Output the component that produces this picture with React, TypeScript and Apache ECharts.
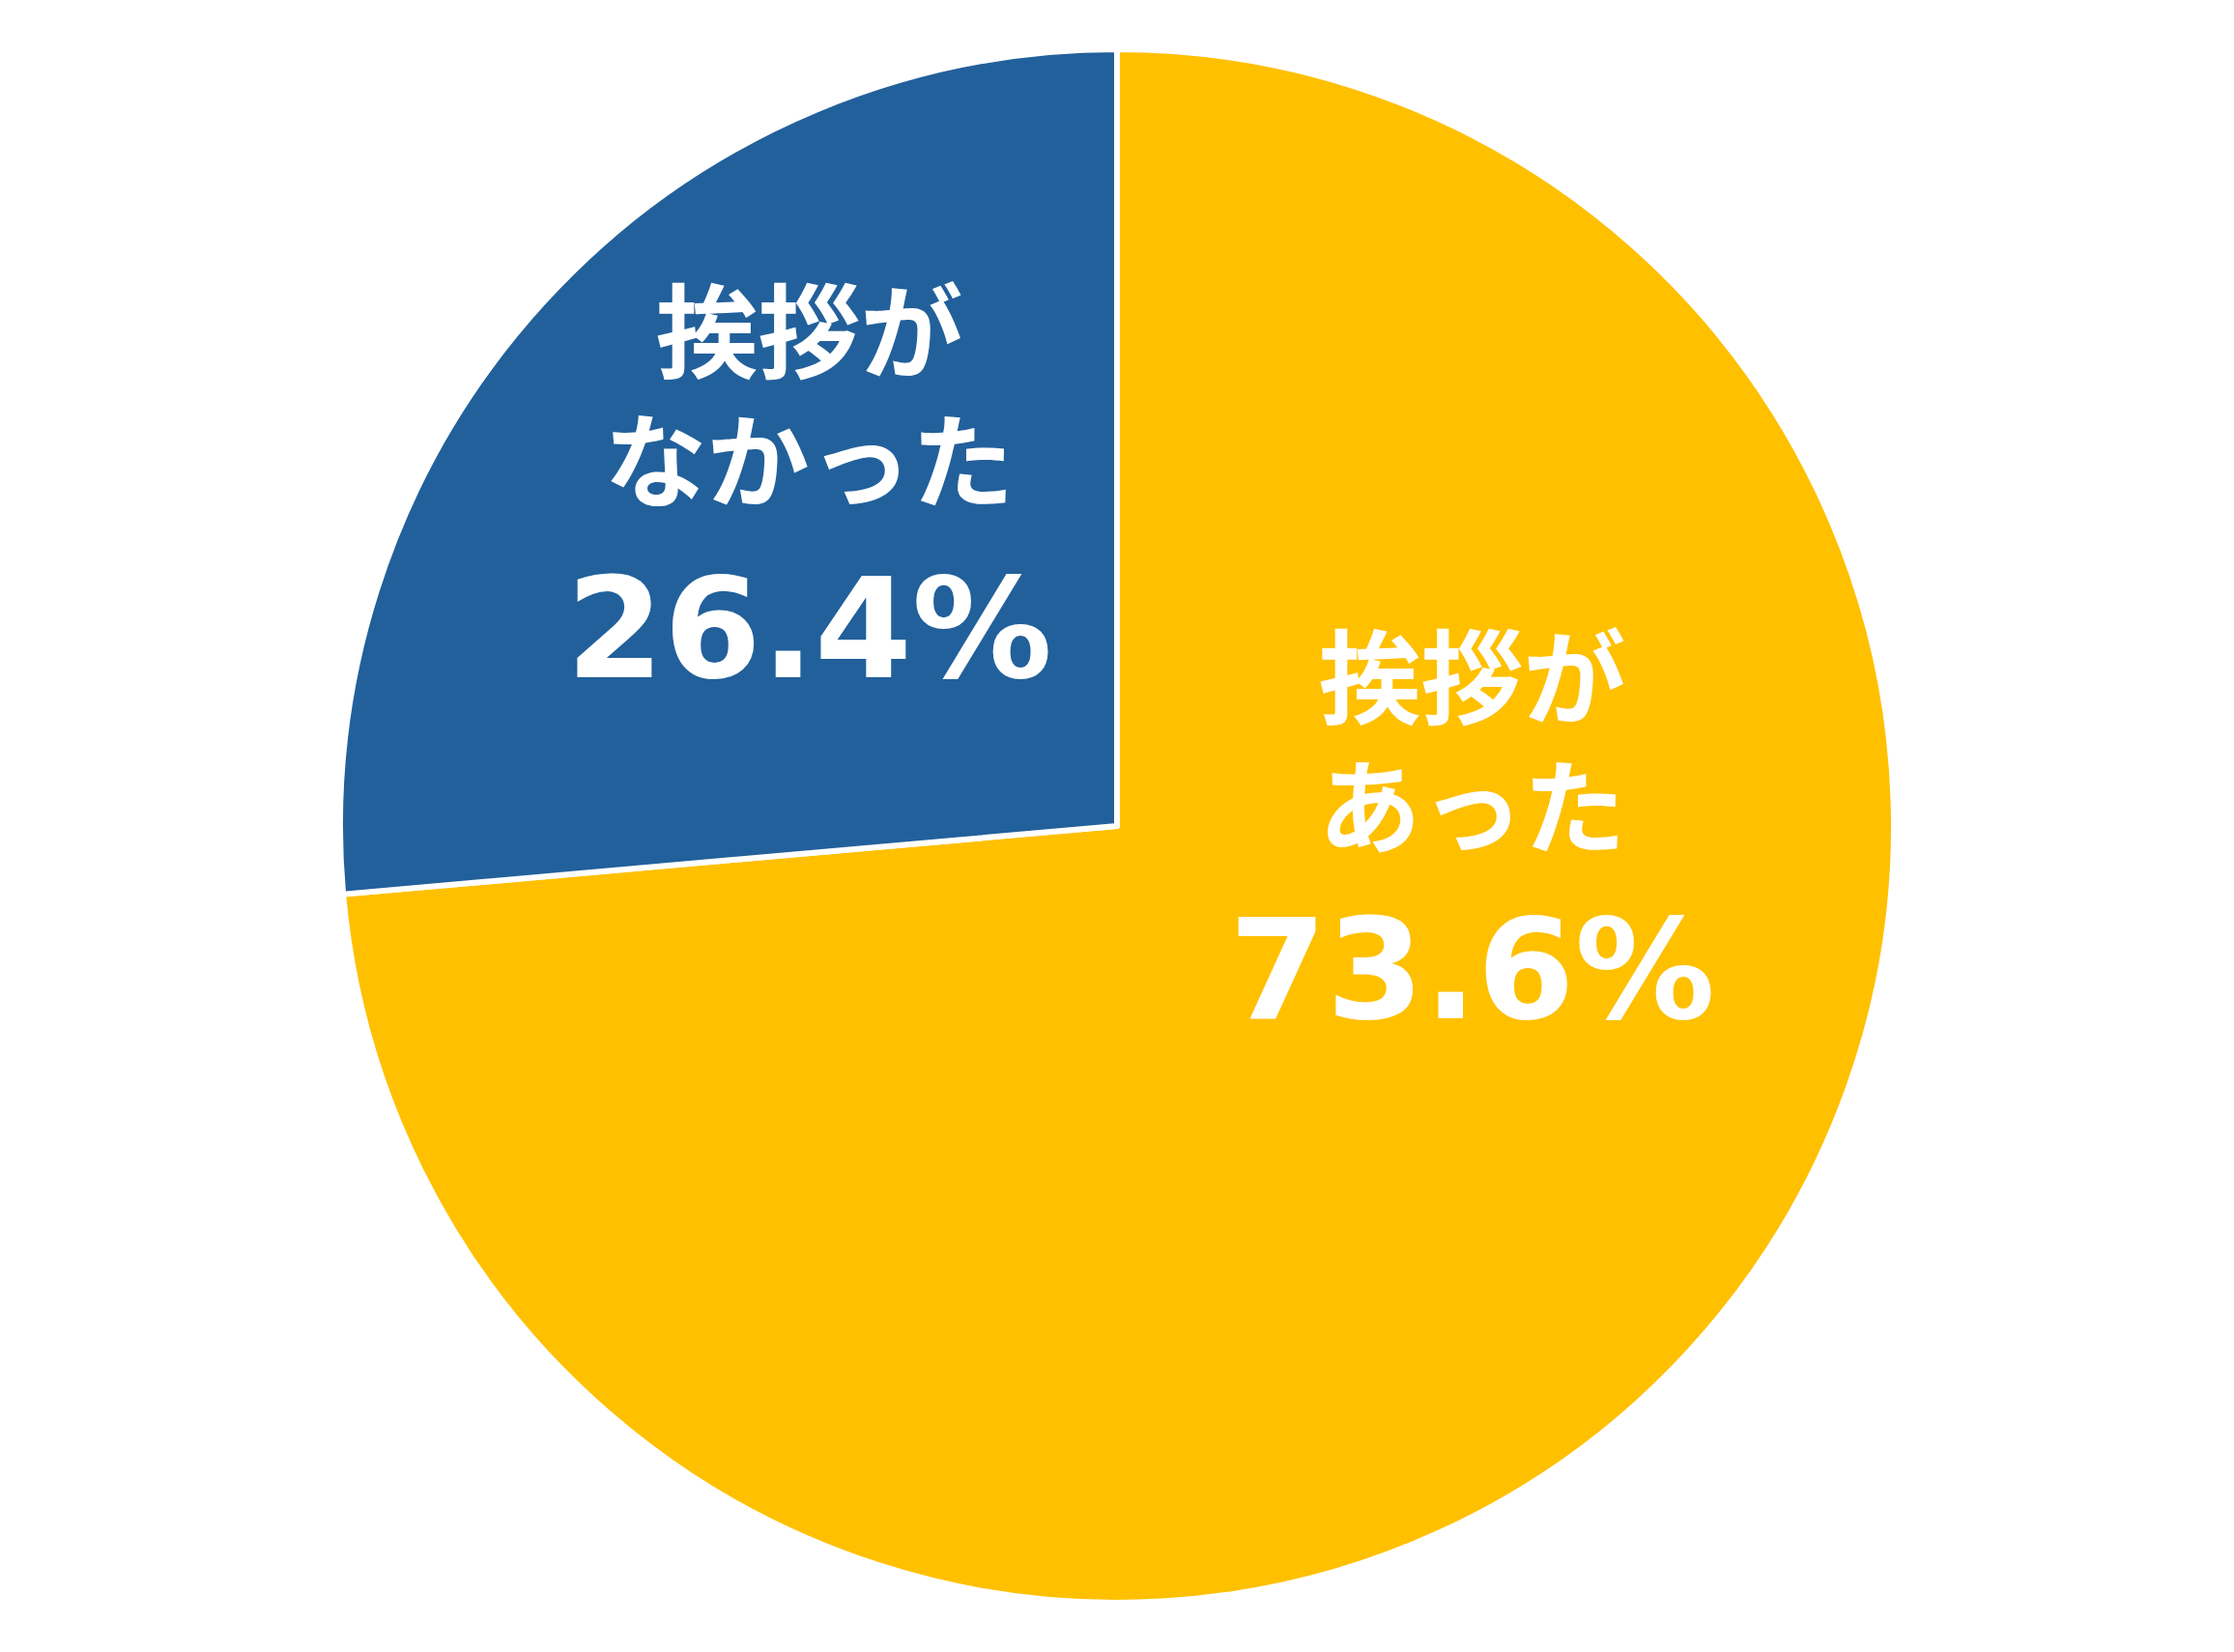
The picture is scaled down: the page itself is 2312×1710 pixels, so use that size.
import React, { useEffect, useRef } from "react";
import * as echarts from "echarts";

const categories = ["挨拶があった", "挨拶がなかった"];
const labelLines = [
  ["挨拶が", "あった"],
  ["挨拶が", "なかった"],
];
const values = [73.6, 26.4];
const colors = ["#FFC000", "#22609B"];

const W = 2312;
const H = 1710;
const CX = 1156;
const CY = 855;
const R = 804;
// label block centres, relative to pie centre in units of radius
const labelOffsets = [
  [0.457, 0.018],
  [-0.396, -0.4205],
];
const percentLineHeights = [214, 226];

export default function App() {
  const ref = useRef<HTMLDivElement>(null);
  useEffect(() => {
    document.body.style.margin = "0";
    const chart = echarts.init(ref.current!, null, { renderer: "svg" });
    const richFor = (i: number) => ({
      n: {
        fontFamily: "Noto Sans CJK JP",
        fontWeight: "bold",
        fontSize: 106,
        lineHeight: 134,
        color: "#ffffff",
        align: "center",
      },
      p: {
        fontFamily: "DejaVu Sans",
        fontWeight: "bold",
        fontSize: 145,
        lineHeight: percentLineHeights[i],
        color: "#ffffff",
        align: "center",
      },
    });
    chart.setOption({
      animation: false,
      backgroundColor: "#ffffff",
      series: [
        {
          type: "pie",
          center: [CX, CY],
          radius: R,
          startAngle: 90,
          clockwise: true,
          silent: true,
          emphasis: { disabled: true },
          itemStyle: { borderColor: "#ffffff", borderWidth: 6 },
          labelLine: { show: false },
          label: {
            show: true,
            position: "inside",
            color: "#ffffff",
            formatter: (p: any) => {
              const lines = labelLines[p.dataIndex];
              return (
                lines.map((l) => `{n|${l}}`).join("\n") +
                `\n{p|${Number(p.value).toFixed(1)}%}`
              );
            },
          },
          labelLayout: (params: any) => {
            const o = labelOffsets[params.dataIndex];
            return {
              x: CX + o[0] * R,
              y: CY + o[1] * R,
              align: "center",
              verticalAlign: "middle",
            };
          },
          data: categories.map((name, i) => ({
            name,
            value: values[i],
            itemStyle: { color: colors[i] },
            label: { rich: richFor(i) },
          })),
        },
      ],
    });
    return () => chart.dispose();
  }, []);
  return (
    <div
      ref={ref}
      style={{ position: "absolute", left: 0, top: 0, width: W, height: H }}
    />
  );
}
